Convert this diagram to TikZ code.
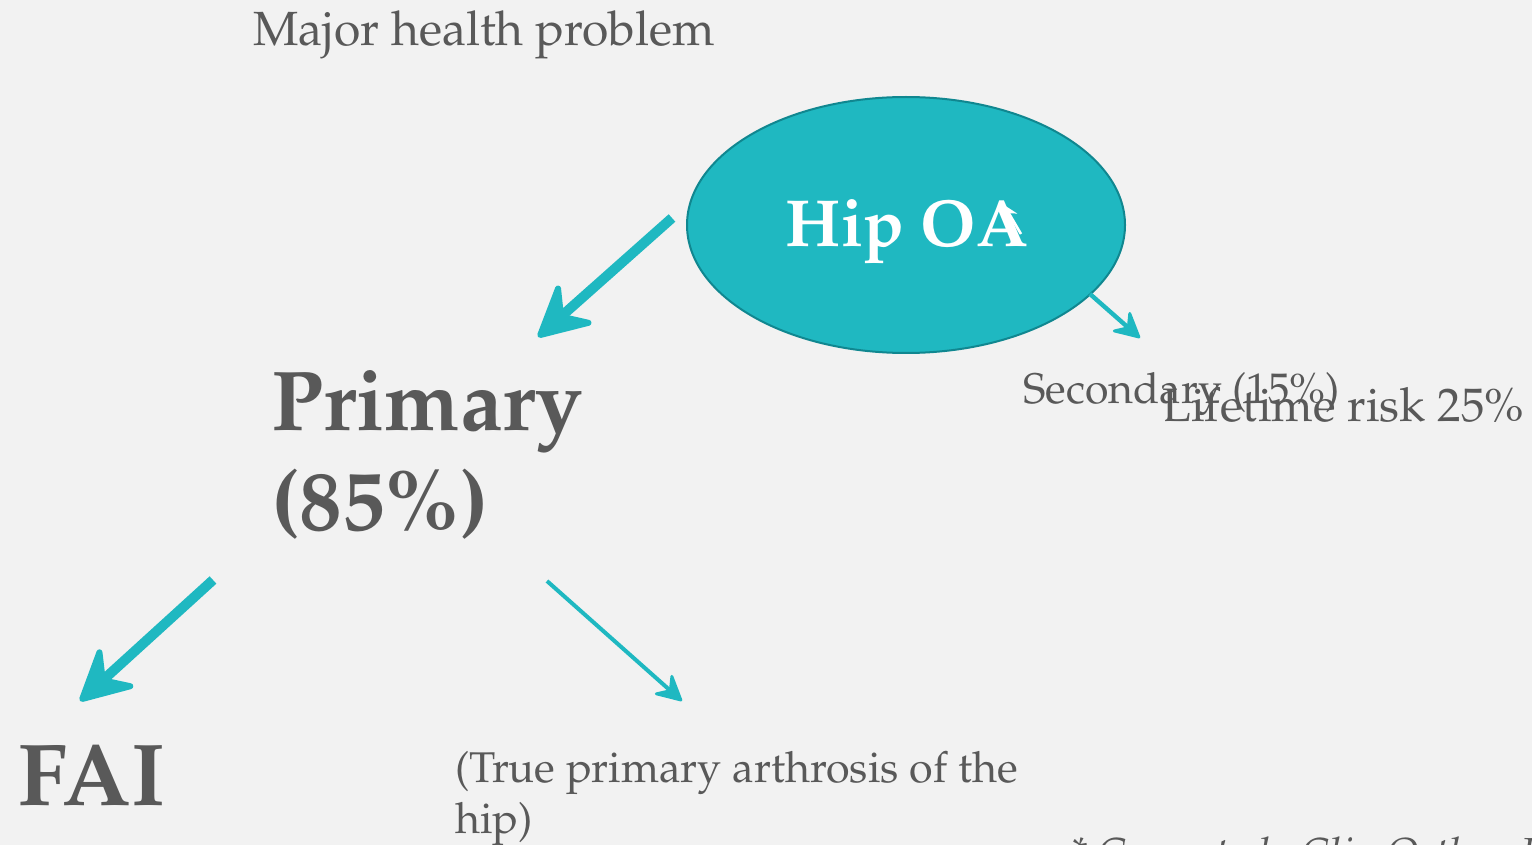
\documentclass[tikz,border=0pt]{standalone}
\usepackage[T1]{fontenc}
\renewcommand{\rmdefault}{ppl}
\usetikzlibrary{arrows.meta,shapes.geometric}

\definecolor{bgcol}{HTML}{F2F2F2}
\definecolor{txtgray}{HTML}{595959}
\definecolor{tealfill}{HTML}{1FB8C1}
\definecolor{tealedge}{HTML}{108790}

\tikzset{
  label/.style={anchor=base west, inner sep=0pt, text=txtgray, align=left},
  bigarrow/.style={line width=5pt, draw=tealfill,
    -{Stealth[length=30pt,width=31pt,inset=11pt,round,line width=3pt,fill=tealfill]}},
  smallarrow/.style={line width=2.2pt, draw=tealfill,
    -{Stealth[length=15pt,width=15.5pt,inset=5.5pt,round,line width=1.4pt,fill=tealfill]}},
}

\begin{document}
\begin{tikzpicture}[x=0.5pt,y=-0.5pt]
  % canvas
  \fill[bgcol] (0,0) rectangle (1532,845);
  \clip (0,0) rectangle (1532,845);
  \useasboundingbox (0,0) rectangle (1532,845);

  % heading
  \node[label, font=\fontsize{24}{29}\selectfont] (major) at (253,46) {Major health problem};

  % central ellipse
  \node[ellipse, fill=tealfill, draw=tealedge, line width=1pt,
        minimum width=219pt, minimum height=128pt, inner sep=0pt] (hip) at (906,225) {};
  \node[anchor=base, inner sep=0pt, text=white, font=\fontsize{33.3}{40}\selectfont\bfseries]
        (hiptext) at (907,247) {Hip OA};
  \coordinate (tickA) at (1021,234);
  \coordinate (tickB) at (1004,205);
  \draw[white, line width=1.3pt, -{Stealth[length=7pt,width=7pt]}] (tickA) -- (tickB);

  % branch labels (base anchor = baseline of the last line)
  \node[label, font=\fontsize{42.5}{50}\selectfont\bfseries] (primary) at (271,530) {Primary\\(85\%)};
  \node[label, font=\fontsize{21.4}{25}\selectfont] (secondary) at (1023,403) {Secondary (15\%)};
  \node[label, font=\fontsize{23.5}{28}\selectfont] (lifetime) at (1162,422) {Lifetime risk 25\%};
  \node[label, font=\fontsize{44}{50}\selectfont\bfseries] (fai) at (18,805) {FAI};
  \node[label, font=\fontsize{21.5}{25.5}\selectfont] (trueprim) at (455,833) {(True primary arthrosis of the\\hip)};
  \node[label, font=\fontsize{21}{25}\selectfont\itshape] (ref) at (1070,867) {* Ganz et al., Clin Orthop Relat Res};

  % connectors
  \coordinate (a1s) at (672,218);  \coordinate (a1e) at (538,337);
  \coordinate (a2s) at (1090,294); \coordinate (a2e) at (1140,338);
  \coordinate (a3s) at (213,580);  \coordinate (a3e) at (80,701);
  \coordinate (a4s) at (547,581);  \coordinate (a4e) at (682,701);
  \draw[bigarrow] (a1s) -- (a1e);
  \draw[smallarrow] (a2s) -- (a2e);
  \draw[bigarrow] (a3s) -- (a3e);
  \draw[smallarrow, line width=2pt] (a4s) -- (a4e);
\end{tikzpicture}
\end{document}
